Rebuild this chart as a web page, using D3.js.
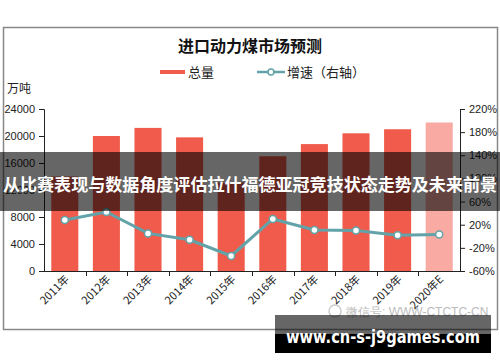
<!DOCTYPE html>
<html>
<head>
<meta charset="utf-8">
<script src="https://cdn.jsdelivr.net/npm/d3@7/dist/d3.min.js"></script>
<style>
  html, body { margin: 0; padding: 0; background: #fff; }
  svg { display: block; }
  .axis text { font-family: "Liberation Sans", Arial, sans-serif; font-size: 11px; fill: #222; }
  .axis path, .axis line { stroke: #222; }
</style>
</head>
<body>
<svg id="chart" width="500" height="362"></svg>
<script>
'use strict';

var YEARS = ['2011年', '2012年', '2013年', '2014年', '2015年', '2016年', '2017年', '2018年', '2019年', '2020年E'];
var TOTAL = [14000, 20000, 21200, 19800, 13100, 17000, 18800, 20400, 21000, 22000];
var GROWTH = [28, 42, 5, -6, -34, 30, 11, 10, 2, 3];
var LEFT_TICKS = [0, 4000, 8000, 12000, 16000, 20000, 24000];
var RIGHT_TICKS = [-60, -20, 20, 60, 100, 140, 180, 220];

var PLOT = { LEFT: 44, RIGHT: 460, TOP: 109, BOTTOM: 271 };
var BAR_COLOR = '#f05b4b';
var BAR_COLOR_E = '#f9aaa2';
var LINE_COLOR = '#62a3a9';

var svg = d3.select('#chart');

// 外枠
svg.append('rect')
    .attr('x', 3.5).attr('y', 27.5)
    .attr('width', 494).attr('height', 302)
    .attr('fill', '#fff')
    .attr('stroke', '#888')
    .attr('stroke-width', 1.5);

svg.append('text')
    .attr('x', 250).attr('y', 52)
    .attr('text-anchor', 'middle')
    .style('font-family', '"Noto Sans CJK SC", sans-serif')
    .style('font-weight', 'bold')
    .style('font-size', '16px')
    .attr('fill', '#111')
    .text('进口动力煤市场预测');

// 凡例
var legend = svg.append('g')
    .style('font-family', '"Noto Sans CJK SC", sans-serif')
    .style('font-size', '13px');
legend.append('rect')
    .attr('x', 160).attr('y', 70).attr('width', 25).attr('height', 4)
    .attr('fill', BAR_COLOR);
legend.append('text').attr('x', 188).attr('y', 77).attr('fill', '#222').text('总量');
legend.append('line')
    .attr('x1', 257).attr('x2', 285).attr('y1', 72).attr('y2', 72)
    .attr('stroke', LINE_COLOR).attr('stroke-width', 2.5);
legend.append('circle')
    .attr('cx', 271).attr('cy', 72).attr('r', 3)
    .attr('fill', '#fff').attr('stroke', LINE_COLOR).attr('stroke-width', 1.5);
legend.append('text').attr('x', 287).attr('y', 77).attr('fill', '#222').text('增速（右轴）');

svg.append('text')
    .attr('x', 7).attr('y', 93)
    .style('font-family', '"Noto Sans CJK SC", sans-serif')
    .style('font-size', '12px')
    .attr('fill', '#222')
    .text('万吨');

var x = d3.scaleBand()
    .domain(YEARS)
    .range([PLOT.LEFT, PLOT.RIGHT])
    .paddingInner(0.35)
    .paddingOuter(0.175);

var yLeft = d3.scaleLinear()
    .domain([0, 24000])
    .range([PLOT.BOTTOM, PLOT.TOP]);

var yRight = d3.scaleLinear()
    .domain([-60, 220])
    .range([PLOT.BOTTOM, PLOT.TOP]);

// 棒グラフ
svg.append('g')
    .selectAll('rect')
    .data(TOTAL)
    .enter()
    .append('rect')
    .attr('x', function(d, i) { return x(YEARS[i]); })
    .attr('y', function(d) { return yLeft(d); })
    .attr('width', x.bandwidth())
    .attr('height', function(d) { return yLeft(0) - yLeft(d); })
    .attr('fill', function(d, i) { return i === YEARS.length - 1 ? BAR_COLOR_E : BAR_COLOR; });

// 軸
svg.append('g')
    .attr('class', 'axis')
    .attr('transform', 'translate(' + PLOT.LEFT + ',0)')
    .call(d3.axisLeft(yLeft).tickValues(LEFT_TICKS).tickSize(5).tickPadding(4).tickFormat(d3.format('d')));

svg.append('g')
    .attr('class', 'axis')
    .attr('transform', 'translate(' + PLOT.RIGHT + ',0)')
    .call(d3.axisRight(yRight).tickValues(RIGHT_TICKS).tickSize(5).tickPadding(4)
        .tickFormat(function(d) { return d + '%'; }));

var xAxis = svg.append('g').attr('class', 'axis');
xAxis.append('line')
    .attr('x1', PLOT.LEFT).attr('x2', PLOT.RIGHT)
    .attr('y1', PLOT.BOTTOM + 0.5).attr('y2', PLOT.BOTTOM + 0.5);
xAxis.selectAll('line.tick')
    .data(YEARS.slice(1))
    .enter()
    .append('line')
    .attr('class', 'tick')
    .attr('x1', function(d) { return Math.round(x(d) - x.step() * x.paddingInner() / 2) + 0.5; })
    .attr('x2', function(d) { return Math.round(x(d) - x.step() * x.paddingInner() / 2) + 0.5; })
    .attr('y1', PLOT.BOTTOM).attr('y2', PLOT.BOTTOM + 5);
xAxis.selectAll('text')
    .data(YEARS)
    .enter()
    .append('text')
    .attr('text-anchor', 'end')
    .attr('transform', function(d) {
        return 'translate(' + (x(d) + x.bandwidth() / 2 + 5) + ',' + (PLOT.BOTTOM + 9) + ') rotate(-45)';
    })
    .style('font-family', '"Noto Sans CJK SC", sans-serif')
    .style('font-size', '11px')
    .text(function(d) { return d; });

// 増速ライン
var line = d3.line()
    .x(function(d, i) { return x(YEARS[i]) + x.bandwidth() / 2; })
    .y(function(d) { return yRight(d); });

svg.append('path')
    .datum(GROWTH)
    .attr('d', line)
    .attr('fill', 'none')
    .attr('stroke', LINE_COLOR)
    .attr('stroke-width', 3);

svg.append('g')
    .selectAll('circle')
    .data(GROWTH)
    .enter()
    .append('circle')
    .attr('cx', function(d, i) { return x(YEARS[i]) + x.bandwidth() / 2; })
    .attr('cy', function(d) { return yRight(d); })
    .attr('r', 3.5)
    .attr('fill', '#fff')
    .attr('stroke', LINE_COLOR)
    .attr('stroke-width', 1.5);

// 透かし
svg.append('text')
    .attr('x', 346).attr('y', 316)
    .style('font-family', '"Liberation Sans", sans-serif')
    .style('font-size', '12px')
    .attr('fill', '#bbb')
    .text('微信号: WWW-CTCTC-CN');
svg.append('circle')
    .attr('cx', 335).attr('cy', 311).attr('r', 6)
    .attr('fill', 'none').attr('stroke', '#ccc').attr('stroke-width', 1.5);

// 中央バナー
svg.append('rect')
    .attr('x', 0).attr('y', 152).attr('width', 500).attr('height', 59)
    .attr('fill', '#000').attr('fill-opacity', 0.6);
svg.append('text')
    .attr('x', 250).attr('y', 191)
    .attr('text-anchor', 'middle')
    .attr('textLength', 494)
    .attr('lengthAdjust', 'spacingAndGlyphs')
    .style('font-family', '"Noto Sans CJK SC", sans-serif')
    .style('font-weight', 'bold')
    .style('font-size', '17px')
    .attr('fill', '#fff')
    .text('从比赛表现与数据角度评估拉什福德亚冠竞技状态走势及未来前景');

// 下部バナー
svg.append('rect')
    .attr('x', 275).attr('y', 315).attr('width', 216).attr('height', 38)
    .attr('fill', '#000').attr('fill-opacity', 0.6);
svg.append('rect')
    .attr('x', 275).attr('y', 334).attr('width', 216).attr('height', 19)
    .attr('fill', '#000');
svg.append('text')
    .attr('x', 383).attr('y', 343)
    .attr('text-anchor', 'middle')
    .attr('textLength', 194)
    .attr('lengthAdjust', 'spacingAndGlyphs')
    .style('font-family', '"DejaVu Sans", sans-serif')
    .style('font-weight', 'bold')
    .style('font-size', '17px')
    .attr('fill', '#fff')
    .text('www.cn-s-j9games.com');
</script>
</body>
</html>
